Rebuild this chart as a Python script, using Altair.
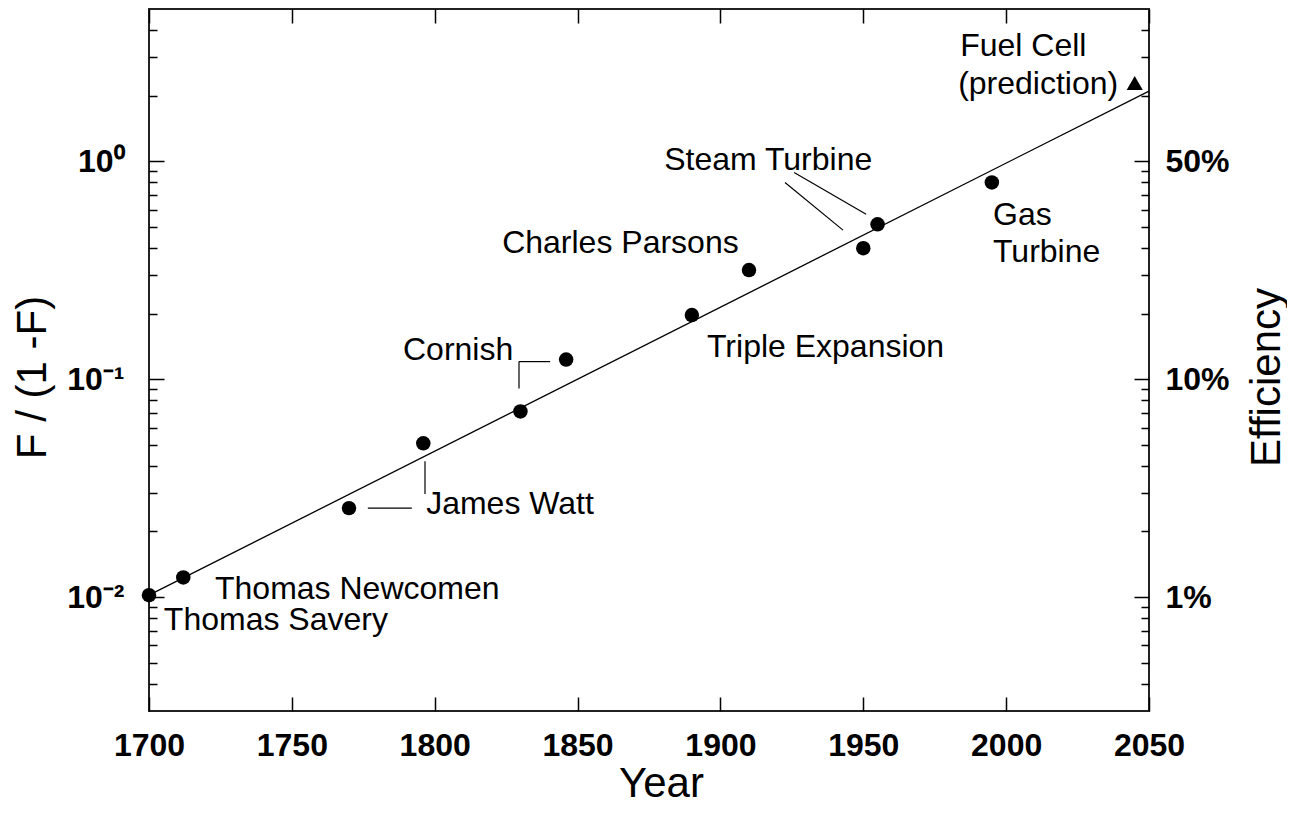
import altair as alt
import pandas as pd

# ---------------- data ----------------
years = [1700, 1712, 1770, 1796, 1830, 1846, 1890, 1910, 1950, 1955, 1995]
ratios = [0.0102, 0.0123, 0.0256, 0.0508, 0.0711, 0.123, 0.197, 0.317, 0.399, 0.514, 0.80]

pred_years = [2045]
pred_ratios = [2.29]

fit_years = [1700, 2050]
fit_ratios = [0.0102, 2.1]

label_texts = ["Thomas Savery", "Thomas Newcomen", "James Watt", "Cornish",
               "Charles Parsons", "Triple Expansion", "Steam Turbine",
               "Gas", "Turbine", "Fuel Cell", "(prediction)"]
label_years = [1705.2, 1723.1, 1797.0, 1788.9, 1823.6, 1895.3, 1880.3,
               1995.4, 1995.4, 1983.9, 1983.2]
label_ratios = [0.00703, 0.00985, 0.0241, 0.123, 0.379, 0.127, 0.9165,
                0.509, 0.345, 3.04, 2.04]

leader_year1 = [1776.6, 1796.6, 1829.5, 1829.5, 1922.6, 1925.8]
leader_ratio1 = [0.0256, 0.0420, 0.1204, 0.1204, 0.799, 0.888]
leader_year2 = [1792.0, 1796.6, 1829.5, 1840.4, 1942.9, 1951.0]
leader_ratio2 = [0.0256, 0.0297, 0.0906, 0.1204, 0.483, 0.571]

year_ticks = [1700, 1750, 1800, 1850, 1900, 1950, 2000, 2050]
ratio_major = [0.01, 0.1, 1]
ratio_major_labels = ["10\u207b\u00b2", "10\u207b\u00b9", "10\u2070"]
ratio_minor = [0.004, 0.005, 0.006, 0.007, 0.008, 0.009,
               0.02, 0.03, 0.04, 0.05, 0.06, 0.07, 0.08, 0.09,
               0.2, 0.3, 0.4, 0.5, 0.6, 0.7, 0.8, 0.9,
               2, 3, 4]
eff_labels = ["1%", "10%", "50%"]

# ---------------- tables ----------------
pts = pd.DataFrame({"year": years, "ratio": ratios})
pred = pd.DataFrame({"year": pred_years, "ratio": pred_ratios})
fit = pd.DataFrame({"year": fit_years, "ratio": fit_ratios})
labels = pd.DataFrame({"text": label_texts, "year": label_years, "ratio": label_ratios})
leaders = pd.DataFrame({"year": leader_year1, "ratio": leader_ratio1,
                        "year2": leader_year2, "ratio2": leader_ratio2})

# ---------------- styling ----------------
W, H = 1000, 702
FONT = "Liberation Sans"
TICK_FS = 32
TITLE_FS = 42
NOTE_FS = 32

xscale = alt.Scale(domain=[1700, 2050], nice=False, zero=False)
yscale = alt.Scale(type="log", domain=[0.003, 5], nice=False)

major_test = " || ".join(f"datum.value == {v}" for v in ratio_major)
left_expr = "".join(f"datum.value == {v} ? '{l}' : " for v, l in zip(ratio_major, ratio_major_labels)) + "''"
right_expr = "".join(f"datum.value == {v} ? '{l}' : " for v, l in zip(ratio_major, eff_labels)) + "''"

x_axis = alt.Axis(
    values=year_ticks, format="d", title="Year",
    labelFont=FONT, labelFontSize=TICK_FS, labelFontWeight="bold", labelColor="black",
    labelPadding=19, labelOverlap=False, labelFlush=False,
    ticks=False, domain=False,
    grid=True, gridColor="black", gridOpacity=1, gridWidth=1.5,
    gridDash=[14, H - 28, 14, 3000],
    titleFont=FONT, titleFontSize=TITLE_FS, titleFontWeight="normal", titleColor="black",
    titleX=512, titleY=85, titleAlign="center", titleBaseline="alphabetic",
)

y_left = alt.Axis(
    values=sorted(ratio_major + ratio_minor), labelExpr=left_expr,
    labelFont=FONT, labelFontSize=TICK_FS, labelFontWeight="bold", labelColor="black",
    labelPadding=25, labelOverlap=False, labelFlush=False,
    ticks=False, domain=False,
    grid=True, gridColor="black", gridOpacity=1, gridWidth=1.5,
    gridDash={"condition": {"test": major_test, "value": [15, W - 30, 15, 3000]},
              "value": [8, W - 16, 8, 3000]},
    title="F / (1 -F)",
    titleFont=FONT, titleFontSize=TITLE_FS, titleFontWeight="normal", titleColor="black",
    titleAngle=270, titleX=-104, titleY=368, titleAlign="center", titleBaseline="alphabetic",
)

y_right = alt.Axis(
    orient="right", values=ratio_major, labelExpr=right_expr,
    labelFont=FONT, labelFontSize=TICK_FS, labelFontWeight="bold", labelColor="black",
    labelPadding=16, labelOverlap=False, labelFlush=False,
    ticks=False, domain=False, grid=False,
    title="Efficiency",
    titleFont=FONT, titleFontSize=TITLE_FS, titleFontWeight="normal", titleColor="black",
    titleAngle=270, titleX=130, titleY=368, titleAlign="center", titleBaseline="alphabetic",
)

X = alt.X("year:Q", scale=xscale, axis=x_axis)

# ---------------- layers ----------------
fit_line = alt.Chart(fit).mark_line(color="black", strokeWidth=1.3).encode(
    x=X,
    y=alt.Y("ratio:Q", scale=yscale, axis=y_left),
)

dots = alt.Chart(pts).mark_circle(size=210, color="black", opacity=1).encode(
    x=X,
    y=alt.Y("ratio:Q", scale=yscale, axis=None),
)

tri = alt.Chart(pred).mark_point(shape="triangle-up", filled=True, size=260,
                                 color="black", opacity=1).encode(
    x=X,
    y=alt.Y("ratio:Q", scale=yscale, axis=y_right),
)

rules = alt.Chart(leaders).mark_rule(color="black", strokeWidth=1.2).encode(
    x=X,
    x2="year2:Q",
    y=alt.Y("ratio:Q", scale=yscale, axis=None),
    y2="ratio2:Q",
)

texts = alt.Chart(labels).mark_text(align="left", baseline="alphabetic", font=FONT,
                                    fontSize=NOTE_FS, color="black").encode(
    x=X,
    y=alt.Y("ratio:Q", scale=yscale, axis=None),
    text="text:N",
)

chart = alt.layer(fit_line, dots, tri, rules, texts).resolve_axis(
    y="independent"
).properties(
    width=W, height=H,
    padding={"left": 141, "top": 1, "right": 138, "bottom": 94},
    autosize=alt.AutoSizeParams(type="none"),
    background="white",
).configure_view(
    stroke="#222222", strokeWidth=2
)

chart.save("out.html", embed_options={"renderer": "svg", "actions": False})
